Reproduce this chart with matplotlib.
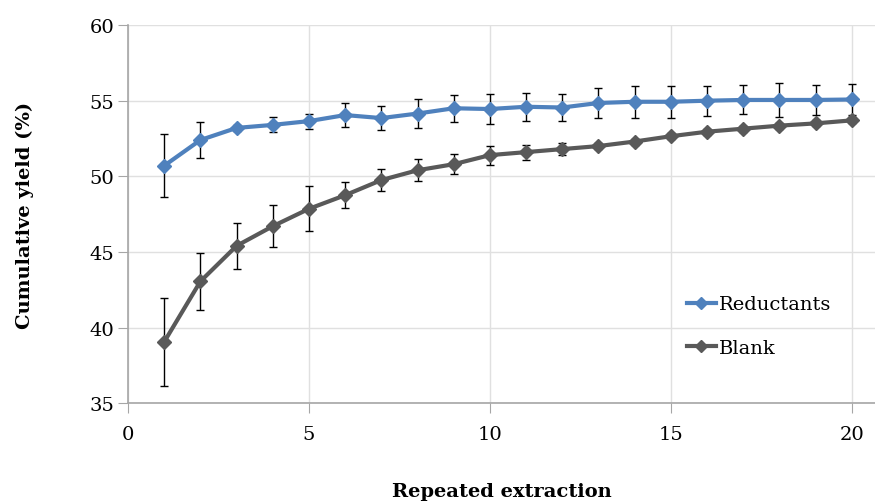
import matplotlib.pyplot as plt

x = list(range(1, 21))

reductants = [50.7, 52.4, 53.2, 53.4, 53.65, 54.05, 53.85, 54.15, 54.5, 54.45,
              54.6, 54.55, 54.85, 54.93, 54.93, 55.0, 55.05, 55.05, 55.05, 55.08]
reductants_err = [2.1, 1.2, 0.2, 0.5, 0.5, 0.8, 0.8, 0.95, 0.9, 1.0,
                  0.93, 0.9, 1.0, 1.05, 1.05, 1.0, 0.96, 1.1, 1.0, 1.0]

blank = [39.05, 43.05, 45.4, 46.7, 47.85, 48.75, 49.75, 50.4, 50.8, 51.4,
         51.6, 51.8, 52.0, 52.3, 52.65, 52.95, 53.15, 53.35, 53.5, 53.7]
blank_err = [2.9, 1.87, 1.5, 1.37, 1.49, 0.87, 0.73, 0.73, 0.67, 0.62,
             0.5, 0.39, 0.2, 0.2, 0.2, 0.2, 0.2, 0.2, 0.2, 0.2]

plt.rcParams['font.family'] = ['DejaVu Serif']

fig = plt.figure(figsize=(8.75, 5.02), dpi=100)
ax = fig.add_axes([0.1463, 0.195, 0.8537, 0.753])

ax.errorbar(x, reductants, yerr=reductants_err, color='#4F81BD', marker='D',
            markersize=7.5, linewidth=3, ecolor='black', elinewidth=1,
            capsize=3, capthick=1, label='Reductants', zorder=3)
ax.errorbar(x, blank, yerr=blank_err, color='#595959', marker='D',
            markersize=7.5, linewidth=3, ecolor='black', elinewidth=1,
            capsize=3, capthick=1, label='Blank', zorder=3)

ax.set_xlim(0, 20.64)
ax.set_ylim(35, 60)
ax.set_xticks([0, 5, 10, 15, 20])
ax.set_yticks([35, 40, 45, 50, 55, 60])
ax.grid(True, color='#E0E0E0', linewidth=1)
ax.set_axisbelow(True)

for s in ['top', 'right']:
    ax.spines[s].set_visible(False)
for s in ['left', 'bottom']:
    ax.spines[s].set_color('#A6A6A6')
    ax.spines[s].set_linewidth(1.2)
ax.tick_params(direction='out', length=7, color='#A6A6A6', labelsize=14,
               labelcolor='black', pad=3)
ax.tick_params(axis='x', pad=9)

ax.set_xlabel('Repeated extraction', fontsize=14, fontweight='bold', labelpad=28)
ax.set_ylabel('Cumulative yield (%)', fontsize=14, fontweight='bold', labelpad=40)

handles, labels = ax.get_legend_handles_labels()
handles = [h[0] for h in handles]
ax.legend(handles, labels, loc='center left', bbox_to_anchor=(0.748, 0.204),
          frameon=False, fontsize=14, handlelength=1.5, handletextpad=0.15,
          labelspacing=1.3, markerscale=0.75, borderaxespad=0, borderpad=0)

fig.savefig('out.png', dpi=100)
